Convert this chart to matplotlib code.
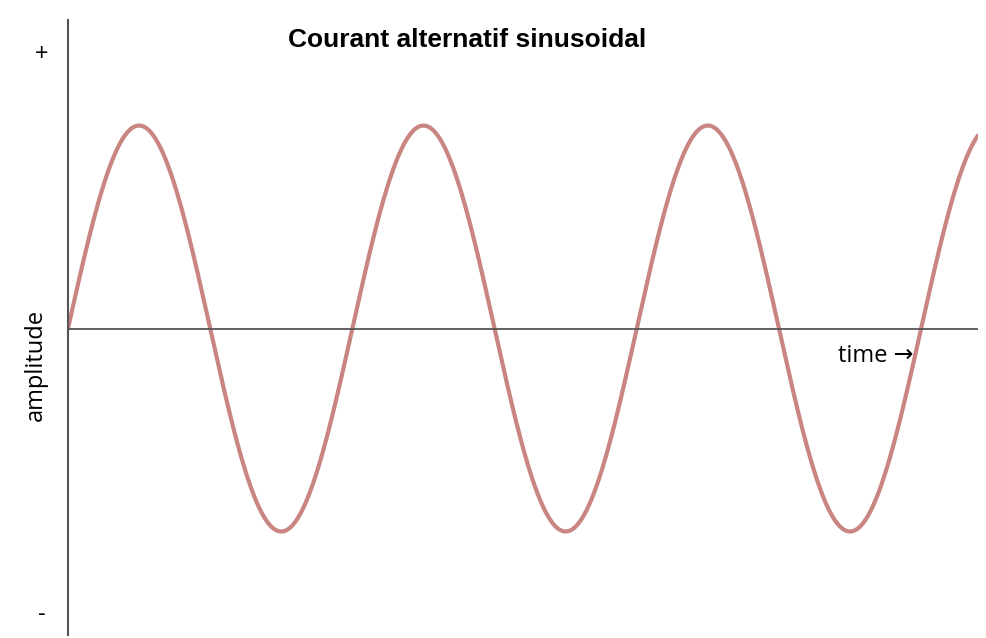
import numpy as np
import matplotlib; matplotlib.use("Agg")
import matplotlib.pyplot as plt

# signal parameters
amplitude = 1.0
n_cycles = 3.2          # periods visible from the axis to the right edge
title = "Courant alternatif sinusoidal"
x_label = "time \u2192"
y_label = "amplitude"

t = np.linspace(0, n_cycles, 1200)
y = amplitude*np.sin(2*np.pi*t)

fig = plt.figure(figsize=(9.86, 6.38), dpi=100)
ax = fig.add_axes([68/986, 3/638, (978-68)/986, (635-20)/638])
ax.plot(t, y, color="#c98581", lw=3, solid_capstyle="round")
ax.axhline(0, color="#555555", lw=1.3)
ax.set_xlim(0, n_cycles)
ax.set_ylim(-1.51, 1.52)
for s in ["top", "right", "bottom"]:
    ax.spines[s].set_visible(False)
ax.spines["left"].set_color("#555555"); ax.spines["left"].set_linewidth(1.5)
ax.set_xticks([]); ax.set_yticks([])

fig.text(467/986, 1-40/638, title, ha="center", va="center", fontsize=19, fontweight="heavy", family="Liberation Sans")
fig.text(42/986, 1-55/638, "+", ha="center", va="center", fontsize=17, family="Open Sans")
fig.text(42/986, 1-615/638, "-", ha="center", va="center", fontsize=17, family="Open Sans")
fig.text(36/986, 1-365/638, y_label, ha="center", va="center", rotation=90, fontsize=17, family="Open Sans")
fig.text(838/986, 1-356/638, x_label, ha="left", va="center", fontsize=17, family=["Open Sans", "DejaVu Sans"])

fig.savefig("out.png", dpi=100)
